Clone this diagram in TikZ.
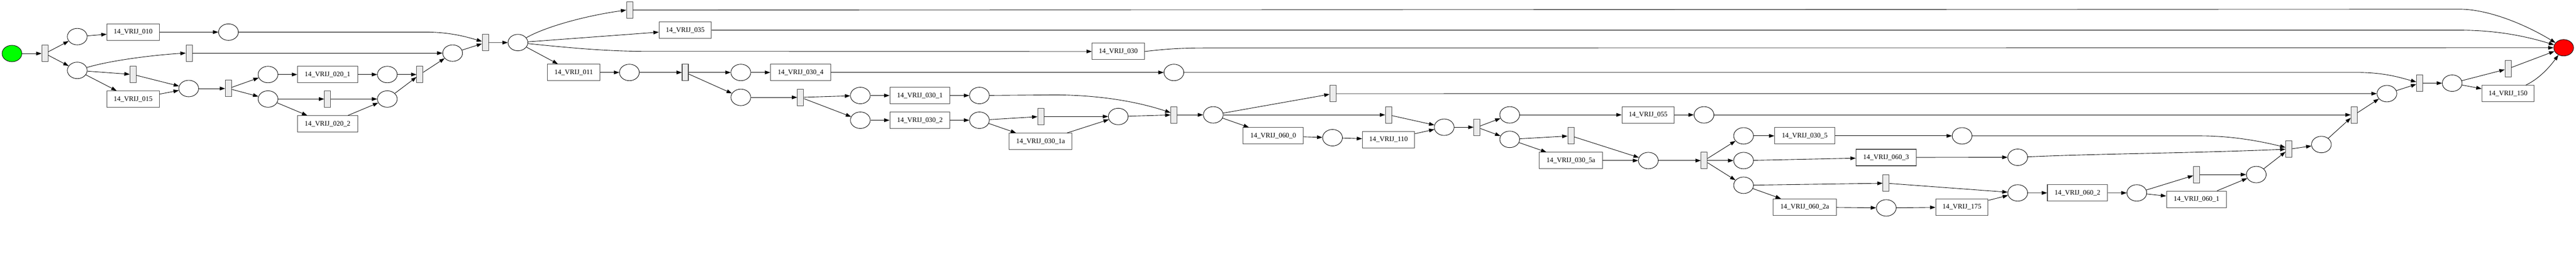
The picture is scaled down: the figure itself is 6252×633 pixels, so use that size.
\documentclass[tikz,border=0pt]{standalone}
\usepackage{fontspec}
\setmainfont{Liberation Serif}
\usetikzlibrary{shapes.geometric,arrows.meta,calc}
\definecolor{startgreen}{RGB}{0,255,0}
\definecolor{endred}{RGB}{255,0,0}
\definecolor{tgray}{RGB}{236,236,236}
\begin{document}
\begin{tikzpicture}[x=1pt,y=1pt,
  pnplace/.style={ellipse,draw=black,line width=1.1pt,minimum width=48pt,minimum height=40pt,inner sep=0pt},
  pntrans/.style={rectangle,draw=black!72,fill=tgray,line width=1.3pt,minimum width=15pt,minimum height=40pt,inner sep=0pt},
  pntask/.style={rectangle,draw=black!72,line width=1.3pt,minimum width=127pt,minimum height=40pt,inner sep=0pt,font=\fontsize{16.8}{20}\selectfont},
  taskm/.style={pntask,minimum width=146pt},
  taskl/.style={pntask,minimum width=153pt},
  flow/.style={draw=black,line width=1.1pt,-{Triangle[length=13pt,width=9pt]}}]
\useasboundingbox (0,0) rectangle (6252,-633);
% places
\node[pnplace,fill=startgreen] (start) at (29,-130) {};
\node[pnplace] (pa) at (187.5,-89) {};
\node[pnplace] (pb) at (187.5,-171) {};
\node[pnplace] (pc) at (458,-215) {};
\node[pnplace] (pd) at (554.5,-78) {};
\node[pnplace] (pe) at (650.5,-181) {};
\node[pnplace] (pf) at (650.5,-240.5) {};
\node[pnplace] (pg) at (940,-181) {};
\node[pnplace] (ph) at (940,-240.5) {};
\node[pnplace] (pi) at (1098.5,-129) {};
\node[pnplace] (pj) at (1257,-103.4) {};
\node[pnplace] (pk) at (1527.5,-176) {};
\node[pnplace] (pl) at (1798,-176) {};
\node[pnplace] (pm) at (1798,-236.5) {};
\node[pnplace] (pn) at (2088,-232) {};
\node[pnplace] (po) at (2088,-292) {};
\node[pnplace] (pp) at (2377,-232) {};
\node[pnplace] (pq) at (2377,-292) {};
\node[pnplace] (pr) at (2849,-176) {};
\node[pnplace] (ps) at (2714,-283) {};
\node[pnplace] (pt) at (2944.6,-279) {};
\node[pnplace] (pu) at (3234,-334.5) {};
\node[pnplace] (pv) at (3505,-309) {};
\node[pnplace] (pw) at (3664,-279) {};
\node[pnplace] (px) at (3664,-338.5) {};
\node[pnplace] (py) at (4135.6,-279) {};
\node[pnplace] (pz) at (4000.5,-390) {};
\node[pnplace] (q1) at (4231.6,-330) {};
\node[pnplace] (q2) at (4231.6,-390) {};
\node[pnplace] (q3) at (4231.6,-450) {};
\node[pnplace] (q4) at (4578,-505) {};
\node[pnplace] (r1) at (4762,-330) {};
\node[pnplace] (r2) at (4897,-382) {};
\node[pnplace] (r3) at (4897,-468.6) {};
\node[pnplace] (r4) at (5186,-468.6) {};
\node[pnplace] (r5) at (5476,-424) {};
\node[pnplace] (r6) at (5634,-351) {};
\node[pnplace] (u0) at (5793,-227.4) {};
\node[pnplace] (u2) at (5951.4,-202) {};
\node[pnplace,fill=endred] (end) at (6222,-116) {};
% silent transitions
\node[pntrans] (t1) at (109,-130) {};
\node[pntrans] (tskip) at (459,-129) {};
\node[pntrans] (ts2) at (323,-181) {};
\node[pntrans] (tsplit) at (554.5,-215) {};
\node[pntrans] (ts3) at (795,-240.5) {};
\node[pntrans] (tjoin2) at (1019,-181) {};
\node[pntrans] (tjoin1) at (1178,-103.5) {};
\node[pntrans] (ttop) at (1528,-24.4) {};
\node[pntrans] (ts4) at (1663,-176) {};
\node[pntrans] (ts5) at (1943,-236.5) {};
\node[pntrans] (ts6) at (2526,-283) {};
\node[pntrans] (tj6) at (2849,-279) {};
\node[pntrans] (ta7) at (3235,-227.5) {};
\node[pntrans] (tb7) at (3370,-279) {};
\node[pntrans] (tc7) at (3584.5,-309) {};
\node[pntrans] (td8) at (3812.5,-330) {};
\node[pntrans] (te8) at (4136,-390) {};
\node[pntrans] (tf9) at (4577.5,-445) {};
\node[pntrans] (s1) at (5331,-424) {};
\node[pntrans] (s2) at (5555,-362.5) {};
\node[pntrans] (s3) at (5713.5,-279) {};
\node[pntrans] (u1) at (5872.5,-202) {};
\node[pntrans] (u3) at (6087,-167) {};
% tasks
\node[pntask] (b010) at (323,-78) {14\_VRIJ\_010};
\node[pntask] (b015) at (323,-241) {14\_VRIJ\_015};
\node[taskm] (b0201) at (795,-181) {14\_VRIJ\_020\_1};
\node[taskm] (b0202) at (795,-301) {14\_VRIJ\_020\_2};
\node[pntask] (b011) at (1392.5,-176) {14\_VRIJ\_011};
\node[pntask] (b035) at (1663,-73.3) {14\_VRIJ\_035};
\node[pntask] (b030) at (2714,-125) {14\_VRIJ\_030};
\node[taskm] (b0304) at (1943,-176) {14\_VRIJ\_030\_4};
\node[taskm] (b0301) at (2232.5,-232) {14\_VRIJ\_030\_1};
\node[taskm] (b0302) at (2232.5,-292) {14\_VRIJ\_030\_2};
\node[taskl] (b0301a) at (2525.5,-343.5) {14\_VRIJ\_030\_1a};
\node[taskm] (b0600) at (3090,-330) {14\_VRIJ\_060\_0};
\node[pntask] (b110) at (3370,-339) {14\_VRIJ\_110};
\node[pntask] (b055) at (4000,-279) {14\_VRIJ\_055};
\node[taskl] (b0305a) at (3812.5,-390) {14\_VRIJ\_030\_5a};
\node[taskm] (b0305) at (4380,-330) {14\_VRIJ\_030\_5};
\node[taskm] (b0603) at (4577.5,-382.6) {14\_VRIJ\_060\_3};
\node[taskl] (b0602a) at (4380,-503) {14\_VRIJ\_060\_2a};
\node[pntask] (b175) at (4761.5,-503) {14\_VRIJ\_175};
\node[taskm] (b0602) at (5042,-468.5) {14\_VRIJ\_060\_2};
\node[taskm] (b0601) at (5331,-484) {14\_VRIJ\_060\_1};
\node[pntask] (b150) at (6087,-227.5) {14\_VRIJ\_150};
% arcs
\draw[flow] (start) -- (t1);
\draw[flow] (t1) -- (pa);
\draw[flow] (t1) -- (pb);
\draw[flow] (pa) -- (b010);
\draw[flow] (b010) -- (pd);
\draw[flow] (pd.east) -- (1040,-78) .. controls (1100,-79) and (1140,-92) .. ($(tjoin1.west)+(0,3)$);
\draw[flow] (pb) .. controls (270,-146) and (380,-133) .. (tskip.west);
\draw[flow] (pb) -- (ts2);
\draw[flow] (pb) -- (b015);
\draw[flow] (ts2) -- (pc);
\draw[flow] (b015) -- (pc);
\draw[flow] (pc) -- (tsplit);
\draw[flow] (tskip) -- (pi);
\draw[flow] (tsplit) -- (pe);
\draw[flow] (tsplit) -- (pf);
\draw[flow] (pe) -- (b0201);
\draw[flow] (b0201) -- (pg);
\draw[flow] (pg) -- (tjoin2);
\draw[flow] (pf) -- (ts3);
\draw[flow] (pf) -- (b0202);
\draw[flow] (ts3) -- (ph);
\draw[flow] (b0202) -- (ph);
\draw[flow] (ph) -- (tjoin2);
\draw[flow] (tjoin2) -- (pi);
\draw[flow] (pi) -- (tjoin1);
\draw[flow] (tjoin1) -- (pj);
\draw[flow] (pj) .. controls (1318,-68) and (1410,-40) .. (ttop.west);
\draw[flow] (pj) -- (b035);
\draw[flow] (pj) .. controls (1400,-118) and (1480,-124.7) .. (1570,-124.7) -- (b030.west);
\draw[flow] (pj) -- (b011);
\draw[flow] (b011) -- (pk);
\draw[flow] (pk) -- (ts4);
\draw[flow] (ttop.east) -- (5969,-22.3) .. controls (6040,-22.3) and (6130,-60) .. (end);
\draw[flow] (b035.east) -- (5969,-73.3) .. controls (6060,-73.3) and (6130,-88) .. (end);
\draw[flow] (b030.east) .. controls (2840,-118) and (2870,-116.5) .. (2930,-116.5) -- (end);
\draw[flow] (ts4) -- (pl);
\draw[flow] (ts4) -- (pm);
\draw[flow] (pl) -- (b0304);
\draw[flow] (b0304) -- (pr);
\draw[flow] (pr.east) -- (5722,-176) .. controls (5790,-176) and (5830,-190) .. ($(u1.west)+(0,3)$);
\draw[flow] (pm) -- (ts5);
\draw[flow] (ts5) -- (pn);
\draw[flow] (ts5) -- (po);
\draw[flow] (pn) -- (b0301);
\draw[flow] (b0301) -- (pp);
\draw[flow] (pp) -- (2560,-230.5) .. controls (2680,-231) and (2770,-250) .. ($(tj6.west)+(0,5.4)$);
\draw[flow] (po) -- (b0302);
\draw[flow] (b0302) -- (pq);
\draw[flow] (pq) -- (ts6);
\draw[flow] (pq) -- (b0301a);
\draw[flow] (ts6) -- (ps);
\draw[flow] (b0301a) -- (ps);
\draw[flow] (ps) -- (tj6);
\draw[flow] (tj6) -- (pt);
\draw[flow] (pt) -- (ta7);
\draw[flow] (pt) -- (tb7);
\draw[flow] (pt) -- (b0600);
\draw[flow] (ta7) -- (u0);
\draw[flow] (b0600) -- (pu);
\draw[flow] (pu) -- (b110);
\draw[flow] (b110) -- (pv);
\draw[flow] (tb7) -- (pv);
\draw[flow] (pv) -- (tc7);
\draw[flow] (tc7) -- (pw);
\draw[flow] (tc7) -- (px);
\draw[flow] (pw) -- (b055);
\draw[flow] (b055) -- (py);
\draw[flow] (py) -- (s3);
\draw[flow] (px) -- (td8);
\draw[flow] (px) -- (b0305a);
\draw[flow] (td8) -- (pz);
\draw[flow] (b0305a) -- (pz);
\draw[flow] (pz) -- (te8);
\draw[flow] (te8) -- (q1);
\draw[flow] (te8) -- (q2);
\draw[flow] (te8) -- (q3);
\draw[flow] (q1) -- (b0305);
\draw[flow] (b0305) -- (r1);
\draw[flow] (r1.east) -- (5340,-330) .. controls (5420,-330) and (5490,-344) .. ($(s2.west)+(0,4.5)$);
\draw[flow] (q2) -- (b0603);
\draw[flow] (b0603) -- (r2);
\draw[flow] (r2) .. controls (5100,-373) and (5300,-372.6) .. (s2.west);
\draw[flow] (q3) -- (tf9);
\draw[flow] (q3) -- (b0602a);
\draw[flow] (b0602a) -- (q4);
\draw[flow] (q4) -- (b175);
\draw[flow] (b175) -- (r3);
\draw[flow] (tf9) -- (r3);
\draw[flow] (r3) -- (b0602);
\draw[flow] (b0602) -- (r4);
\draw[flow] (r4) -- (s1);
\draw[flow] (r4) -- (b0601);
\draw[flow] (s1) -- (r5);
\draw[flow] (b0601) -- (r5);
\draw[flow] (r5) -- (s2);
\draw[flow] (s2) -- (r6);
\draw[flow] (r6) -- (s3);
\draw[flow] (s3) -- (u0);
\draw[flow] (u0) -- (u1);
\draw[flow] (u1) -- (u2);
\draw[flow] (u2) -- (u3);
\draw[flow] (u2) -- (b150);
\draw[flow] (u3) -- (end);
\draw[flow] (b150) .. controls (6165,-190) and (6190,-160) .. (end);
\end{tikzpicture}
\end{document}
